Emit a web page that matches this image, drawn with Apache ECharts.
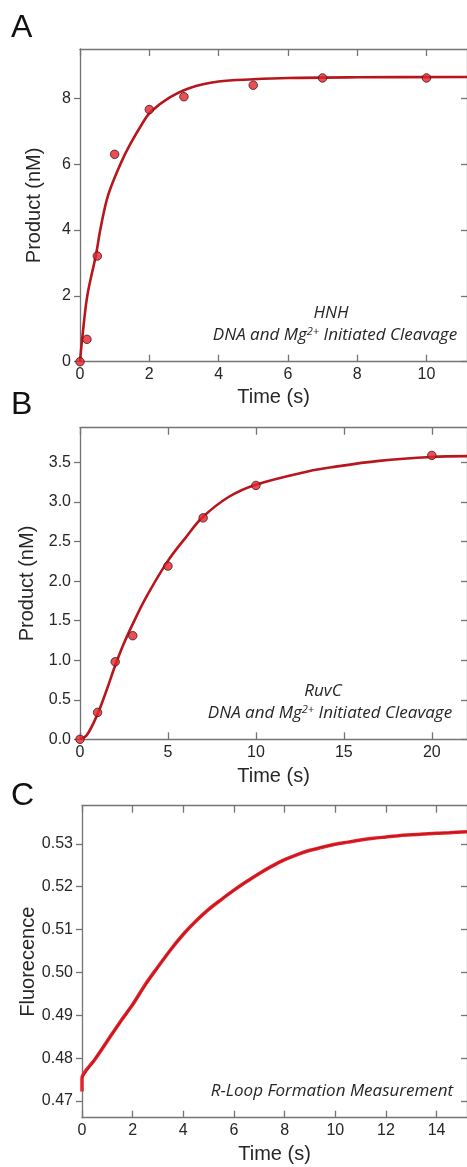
<!DOCTYPE html>
<html><head><meta charset="utf-8">
<script src="https://cdn.jsdelivr.net/npm/echarts@6/dist/echarts.min.js"></script>
<style>html,body{margin:0;padding:0;background:#fff}#c{width:467px;height:1167px}</style>
</head><body><div id="c"></div>
<script>
// ---- Panel A: HNH ----
const hnhTime = [0, 0.2, 0.5, 1, 2, 3, 5, 7, 10];
const hnhProduct = [0, 0.68, 3.21, 6.30, 7.66, 8.05, 8.40, 8.62, 8.62];
const hnhFitTime = [0, 0.06, 0.21, 0.46, 0.59, 0.81, 1.17, 1.43, 1.83, 2.05, 2.58, 3.15, 4, 5, 6, 8, 11.2];
const hnhFitProduct = [0, 0.66, 2.0, 3.24, 4.03, 5.05, 6.01, 6.57, 7.29, 7.6, 8.02, 8.31, 8.51, 8.58, 8.62, 8.64, 8.65];
const hnhXTicks = [0, 2, 4, 6, 8, 10];
const hnhYTicks = [0, 2, 4, 6, 8];

// ---- Panel B: RuvC ----
const ruvcTime = [0, 1, 2, 3, 5, 7, 10, 20];
const ruvcProduct = [0, 0.34, 0.98, 1.31, 2.19, 2.80, 3.21, 3.59];
const ruvcFitTime = [0, 0.38, 0.98, 1.51, 1.98, 2.45, 2.96, 3.77, 4.98, 6.04, 6.98, 8.49, 10, 13, 14.3, 17, 20, 22];
const ruvcFitProduct = [0, 0.05, 0.31, 0.62, 0.92, 1.19, 1.44, 1.80, 2.25, 2.56, 2.81, 3.07, 3.22, 3.39, 3.44, 3.52, 3.57, 3.58];
const ruvcXTicks = [0, 5, 10, 15, 20];
const ruvcYTicks = [0, 0.5, 1.0, 1.5, 2.0, 2.5, 3.0, 3.5];

// ---- Panel C: R-loop formation ----
const rloopTime = [0, 0, 0, 0.5, 1.0, 1.5, 2.0, 2.5, 3.0, 3.5, 4.0, 4.5, 5.0, 5.5, 6.0, 6.5, 7.0, 7.5, 8.0, 8.5, 9.0, 9.5, 10, 10.5, 11, 11.5, 12, 12.5, 13, 13.5, 14, 14.5, 15.2];
const rloopFluor = [0.4722, 0.4740, 0.4753, 0.4796, 0.4840, 0.4884, 0.4925, 0.4972, 0.5013, 0.5053, 0.5089, 0.5120, 0.5147, 0.5170, 0.5192, 0.5212, 0.5231, 0.5248, 0.5263, 0.5275, 0.5285, 0.5292, 0.5299, 0.5304, 0.5309, 0.5313, 0.5316, 0.5319, 0.5321, 0.5323, 0.5325, 0.5326, 0.5328];
const rloopFitTime = [0, 1, 2, 3, 4, 5, 6, 7, 8, 9, 10, 11, 12, 13, 14, 15.2];
const rloopFitFluor = [0.4753, 0.4840, 0.4925, 0.5013, 0.5089, 0.5147, 0.5192, 0.5231, 0.5263, 0.5285, 0.5299, 0.5309, 0.5316, 0.5321, 0.5325, 0.5328];
const rloopXTicks = [0, 2, 4, 6, 8, 10, 12, 14];
const rloopYTicks = [0.47, 0.48, 0.49, 0.50, 0.51, 0.52, 0.53];

const zip = (xs, ys) => xs.map((x, i) => [x, ys[i]]);

const FONT = 'Liberation Sans';
const AXIS_COLOR = '#747474';
const TEXT_COLOR = '#262626';
const CURVE = '#b8161d';
const DOT = '#e8222a';

const grids = [
  { left: 80, top: 49, width: 390, height: 312.7 },
  { left: 80, top: 427.7, width: 389, height: 311.6 },
  { left: 82, top: 805.7, width: 388, height: 312 }
];

const xAxes = [], yAxes = [];
function addAxes(g, xmin, xmax, xticks, xname, ymin, ymax, yticks, yname, yfmt, yGap, xGap, yMove) {
  const line = { show: true, onZero: false, lineStyle: { color: AXIS_COLOR, width: 1.3 } };
  const tickStyle = { color: AXIS_COLOR, width: 1.3 };
  xAxes.push({
    type: 'value', gridIndex: g, position: 'bottom', min: xmin, max: xmax,
    axisLine: line, splitLine: { show: false },
    axisTick: { show: true, inside: true, length: 7, lineStyle: tickStyle, customValues: xticks },
    axisLabel: { show: true, margin: 5, fontFamily: FONT, fontSize: 16, color: TEXT_COLOR, customValues: xticks },
    name: xname, nameLocation: 'middle', nameGap: xGap,
    nameTextStyle: { fontFamily: FONT, fontSize: 20, color: TEXT_COLOR }
  });
  xAxes.push({
    type: 'value', gridIndex: g, position: 'top', min: xmin, max: xmax,
    axisLine: line, splitLine: { show: false },
    axisTick: { show: true, inside: true, length: 7, lineStyle: tickStyle, customValues: xticks },
    axisLabel: { show: false }
  });
  yAxes.push({
    type: 'value', gridIndex: g, position: 'left', min: ymin, max: ymax,
    axisLine: line, splitLine: { show: false },
    axisTick: { show: true, inside: false, length: 6, lineStyle: tickStyle, customValues: yticks },
    axisLabel: { show: true, margin: 9, fontFamily: FONT, fontSize: 16, color: TEXT_COLOR, customValues: yticks, formatter: yfmt },
    name: yname, nameLocation: 'middle', nameGap: yGap, nameMoveOverlap: yMove,
    nameTextStyle: { fontFamily: FONT, fontSize: 20, color: TEXT_COLOR }
  });
  yAxes.push({
    type: 'value', gridIndex: g, position: 'right', min: ymin, max: ymax,
    axisLine: line, splitLine: { show: false },
    axisTick: { show: true, inside: true, length: 6, lineStyle: tickStyle, customValues: yticks },
    axisLabel: { show: false }
  });
}
addAxes(0, 0, 11.17, hnhXTicks, 'Time (s)', 0, 9.5, hnhYTicks, 'Product (nM)', v => String(v), 36, 26, true);
addAxes(1, 0, 22, ruvcXTicks, 'Time (s)', 0, 3.94, ruvcYTicks, 'Product (nM)', v => v.toFixed(1), 36, 27, true);
addAxes(2, 0, 15.2, rloopXTicks, 'Time (s)', 0.4661, 0.5389, rloopYTicks, 'Fluorecence', v => v.toFixed(2), 44, 27, false);

const fitLine = (data, xi, yi) => ({
  type: 'line', xAxisIndex: xi, yAxisIndex: yi, data, smooth: 0.35,
  symbol: 'none', lineStyle: { color: CURVE, width: 2.6 }, z: 2, silent: true
});
const dots = (data, xi, yi) => ({
  type: 'scatter', xAxisIndex: xi, yAxisIndex: yi, data, symbolSize: 8.5,
  itemStyle: { color: DOT, borderColor: '#3a1a1a', borderWidth: 1 }, z: 3, silent: true
});

const annoFont = 'Open Sans';
const annoRich = {
  n: { fontFamily: annoFont, fontStyle: 'italic', fontSize: 17, fill: TEXT_COLOR },
  s: { fontFamily: annoFont, fontStyle: 'italic', fontSize: 11, fill: TEXT_COLOR, verticalAlign: 'top' }
};
function anno(x, y, text) {
  return { type: 'text', x, y, style: { text, rich: annoRich, align: 'center', verticalAlign: 'middle', fill: TEXT_COLOR } };
}
function panelLabel(x, y, t) {
  return { type: 'text', x, y, style: { text: t, font: '32px "Liberation Sans"', fill: '#111', align: 'left', verticalAlign: 'middle' } };
}

const option = {
  backgroundColor: '#fff',
  animation: false,
  grid: grids,
  xAxis: xAxes,
  yAxis: yAxes,
  series: [
    fitLine(zip(hnhFitTime, hnhFitProduct), 0, 0),
    dots(zip(hnhTime, hnhProduct), 0, 0),
    fitLine(zip(ruvcFitTime, ruvcFitProduct), 2, 2),
    dots(zip(ruvcTime, ruvcProduct), 2, 2),
    { type: 'line', xAxisIndex: 4, yAxisIndex: 4, data: zip(rloopTime, rloopFluor), smooth: 0.3,
      symbol: 'none', lineStyle: { color: DOT, width: 3.5 }, z: 2, silent: true },
    { type: 'line', xAxisIndex: 4, yAxisIndex: 4, data: zip(rloopFitTime, rloopFitFluor), smooth: 0.35,
      symbol: 'none', lineStyle: { color: CURVE, width: 1.2 }, z: 3, silent: true }
  ],
  graphic: [
    panelLabel(11, 28, 'A'),
    panelLabel(11, 405, 'B'),
    panelLabel(11, 796, 'C'),
    anno(331, 313, '{n|HNH}'),
    anno(335, 335, '{n|DNA and Mg}{s|2+}{n| Initiated Cleavage}'),
    anno(323, 691, '{n|RuvC}'),
    anno(330, 713, '{n|DNA and Mg}{s|2+}{n| Initiated Cleavage}'),
    anno(332, 1091, '{n|R-Loop Formation Measurement}')
  ]
};
const chart = echarts.init(document.getElementById('c'), null, { renderer: 'canvas' });
chart.setOption(option);
</script>
</body></html>
